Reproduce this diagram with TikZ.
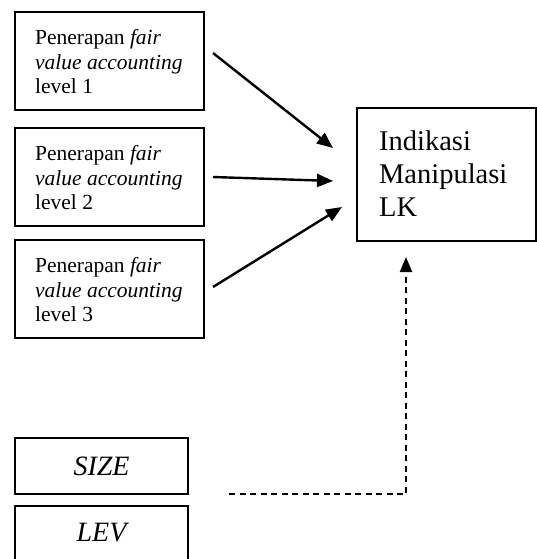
\documentclass[tikz,border=0pt]{standalone}
\usepackage{fontspec}
\setmainfont{Liberation Serif}
\usetikzlibrary{arrows.meta}
\begin{document}
\begin{tikzpicture}[x=1pt,y=-1pt,
  box/.style={draw,line width=2.2pt,inner sep=0pt},
  smallbox/.style={box,minimum width=189pt,minimum height=98pt},
  smalltext/.style={anchor=west,inner sep=0pt,align=left,font=\fontsize{21.5pt}{24.5pt}\selectfont},
  bigtext/.style={inner sep=0pt,font=\fontsize{28.5pt}{33pt}\selectfont},
  arr/.style={line width=2.4pt,-{Triangle[length=16pt,width=13pt]}},
  dasharr/.style={line width=2.2pt,dash pattern=on 6pt off 4.5pt,-{Triangle[length=15pt,width=12pt]}}]
\clip (0,0) rectangle (537,559);
\useasboundingbox (0,0) rectangle (537,559);
\node[smallbox] (b1) at (109.5,61) {};
\node[smallbox] (b2) at (109.5,177) {};
\node[smallbox] (b3) at (109.5,289) {};
\node[smalltext] (b1t) at ([xshift=21pt,yshift=-1pt]b1.west) {Penerapan \textit{fair}\\\textit{value accounting}\\level 1};
\node[smalltext] (b2t) at ([xshift=21pt,yshift=-1pt]b2.west) {Penerapan \textit{fair}\\\textit{value accounting}\\level 2};
\node[smalltext] (b3t) at ([xshift=21pt,yshift=-1pt]b3.west) {Penerapan \textit{fair}\\\textit{value accounting}\\level 3};
\node[box,minimum width=179pt,minimum height=133pt] (lk) at (446.5,174.5) {};
\node[bigtext,anchor=west,align=left] (lkt) at ([xshift=23pt,yshift=1pt]lk.west) {Indikasi\\Manipulasi\\LK};
\node[box,minimum width=173pt,minimum height=56pt] (size) at (101.5,466) {};
\node[bigtext,font=\fontsize{28pt}{33pt}\selectfont\itshape] (sizet) at (size.center) {SIZE};
\draw[line width=2.2pt] (15,575) |- (188,506) -- (188,575);
\node[bigtext,font=\fontsize{28pt}{33pt}\selectfont\itshape] (lev) at (101.5,533) {LEV};
\coordinate (s1) at (213,53);
\coordinate (t1) at (333,148);
\coordinate (s2) at (213,177);
\coordinate (t2) at (333,181);
\coordinate (s3) at (213,287);
\coordinate (t3) at (342,207);
\coordinate (ds) at (229,494);
\coordinate (dc) at (406,494);
\coordinate (dt) at (406,257);
\draw[arr] (s1) -- (t1);
\draw[arr] (s2) -- (t2);
\draw[arr] (s3) -- (t3);
\draw[dasharr] (ds) -- (dc) -- (dt);
\end{tikzpicture}
\end{document}
